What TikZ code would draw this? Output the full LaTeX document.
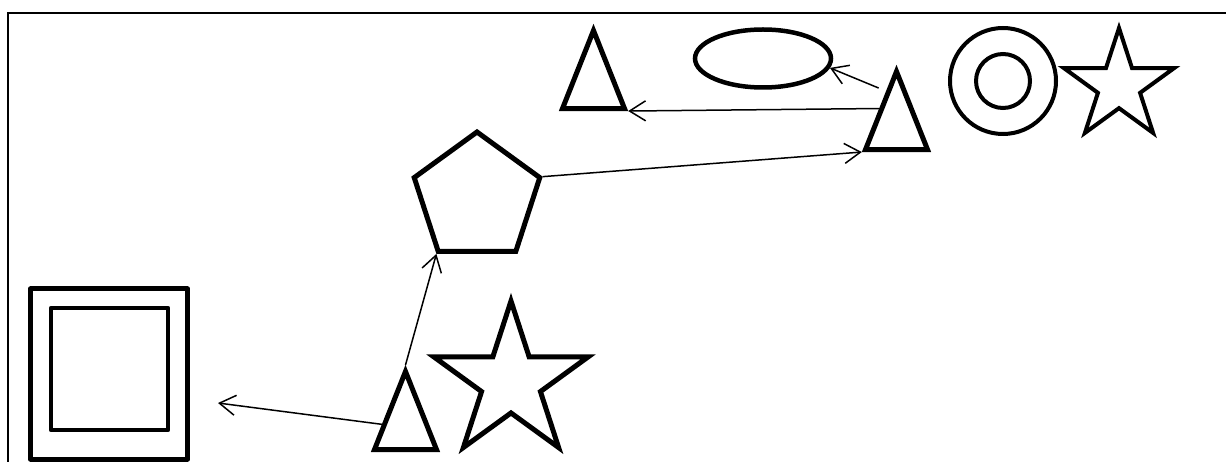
\documentclass[tikz,border=0pt]{standalone}
\usetikzlibrary{arrows.meta,calc,shapes.geometric}

\begin{document}
\begin{tikzpicture}[x=1pt,y=-1pt,
  outline/.style={draw,line width=5pt,inner sep=0pt},
  tri/.style={outline,isosceles triangle,shape border rotate=90,
    isosceles triangle stretches,minimum width=62pt,minimum height=78pt},
  pentastar/.style={outline,star,star points=5,star point ratio=2.618},
  link/.style={line width=1.5pt,-{Straight Barb[length=16pt,width=20pt,line width=1.5pt]}}
]
\useasboundingbox (0,0) rectangle (1226,462);
% frame
\draw[line width=2pt] (8,470) -- (8,13) -- (1240,13);
% shapes
\node[outline,line join=round,minimum width=157pt,minimum height=170pt] (outerbox) at (109,374) {};
\node[outline,line width=4.5pt,line join=round,minimum width=117pt,minimum height=122pt] (innerbox) at (109.5,369) {};
\node[tri] (lowtri) at (405.5,428.5) {};
\node[pentastar,minimum size=162pt] (bigstar) at (511,382) {};
\node[outline,regular polygon,regular polygon sides=5,minimum size=132pt] (pent) at (477,198) {};
\node[tri] (righttri) at (896.5,128.5) {};
\node[tri] (lefttri) at (593.5,87.5) {};
\node[outline,line width=4.5pt,ellipse,minimum width=136pt,minimum height=58pt] (oval) at (763,58.5) {};
\node[outline,line width=4pt,circle,minimum size=106pt] (ringout) at (1003,81) {};
\node[outline,line width=4pt,circle,minimum size=54pt] (ringin) at (1003,81) {};
\node[pentastar,line width=4pt,minimum size=116pt] (smallstar) at (1119,86) {};
\coordinate (boxtip) at (218,403);
% connectors
\draw[link] (lowtri.170) -- (boxtip);
\draw[link] (lowtri.apex) -- (pent.corner 3);
\draw[link] (pent.corner 5) -- (righttri.left corner);
\draw[link] (righttri.left side) -- (lefttri.right corner);
\draw[link,shorten <=8pt] ($(righttri.apex)!.6!(righttri.left side)$) -- (oval.-8);
\end{tikzpicture}
\end{document}
